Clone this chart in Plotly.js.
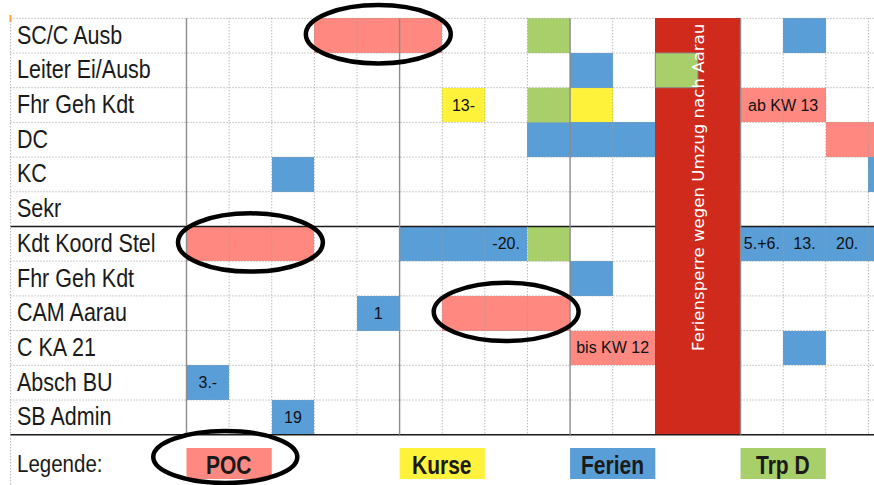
<!DOCTYPE html>
<html><head><meta charset="utf-8">
<script src="https://cdn.plot.ly/plotly-3.0.1.min.js"></script>
<style>html,body{margin:0;padding:0;background:#fff;}#chart{width:874px;height:485px;}</style>
</head><body><div id="chart"></div>
<script>
// ---------------- DATA ----------------
const rowLabels = ['SC/C Ausb','Leiter Ei/Ausb','Fhr Geh Kdt','DC','KC','Sekr',
  'Kdt Koord Stel','Fhr Geh Kdt','CAM Aarau','C KA 21','Absch BU','SB Admin'];

// POC (row index, start week column, number of columns, cell text)
const pocRows  = [0, 2, 3, 6, 8, 9];
const pocStart = [3, 13, 15, 0, 6, 9];
const pocSpan  = [3, 2, 2, 3, 3, 2];
const pocText  = ['', 'ab KW 13', '', '', '', 'bis KW 12'];
const pocCircled = [true, false, false, true, true, false];

// Kurse
const kurseRows  = [2, 2];
const kurseStart = [6, 9];
const kurseSpan  = [1, 1];
const kurseText  = ['13-', ''];

// Ferien
const ferienRows  = [0, 1, 3, 4, 4, 6, 6, 6, 6, 6, 6, 7, 8, 9, 10, 11];
const ferienStart = [14, 9, 8, 2, 16, 5, 7, 13, 14, 15, 16, 9, 4, 14, 0, 2];
const ferienSpan  = [1, 1, 3, 1, 1, 2, 1, 1, 1, 1, 1, 1, 1, 1, 1, 1];
const ferienText  = ['', '', '', '', '', '', '-20.', '5.+6.', '13.', '20.', '', '', '1', '', '3.-', '19'];

// Trp D
const trpRows  = [0, 1, 2, 6];
const trpStart = [8, 11, 8, 8];
const trpSpan  = [1, 1, 1, 1];
const trpText  = ['', '', '', ''];

// Feriensperre block
const sperreStart = 11;
const sperreSpan = 2;
const sperreText = 'Feriensperre wegen Umzug nach Aarau';

const legendTitle = 'Legende:';
const legendNames = ['POC', 'Kurse', 'Ferien', 'Trp D'];

// ---------------- LAYOUT GEOMETRY ----------------
const W = 874, H = 485;
const colX0 = 186.5, colW = 42.62, rowY0 = 18.3, rowH = 34.7;
const xr = [-colX0 / colW, (W - colX0) / colW];
const yTop = -rowY0 / rowH, yBot = (H - rowY0) / rowH;
const px2x = px => xr[0] + px / W * (xr[1] - xr[0]);
const py2y = py => yTop + py / H * (yBot - yTop);
const nRows = rowLabels.length;
const nCols = 17;
const monthCols = [0, 5, 9, 13];
const legendCols = [0, 5, 9, 13];

const COLORS = {POC: '#FF8880', Kurse: '#FFF23A', Ferien: '#5A9ED8', TrpD: '#A8CF6A', Sperre: '#CF2A1B'};
const SANS = '"Liberation Sans", Arial, sans-serif';

function barTrace(rows, start, span, text, color, lineW) {
  return {
    type: 'bar', orientation: 'h',
    y: rows.map(r => r + 0.5), x: span, base: start,
    width: rows.map(() => 1),
    text: text, textposition: 'inside', insidetextanchor: 'middle',
    textangle: 0, constraintext: 'none',
    textfont: {family: SANS, size: 16, color: '#111'},
    marker: {color: color, line: {width: lineW || 0, color: '#8a8a8a'}},
    hoverinfo: 'skip', showlegend: false
  };
}

const inSperre = s => s >= sperreStart && s < sperreStart + sperreSpan;

const traces = [
  barTrace([nRows / 2 - 0.5], [sperreStart], [sperreSpan], [''], COLORS.Sperre),
  barTrace(pocRows, pocStart, pocSpan, pocText, COLORS.POC),
  barTrace(kurseRows, kurseStart, kurseSpan, kurseText, COLORS.Kurse),
  barTrace(ferienRows, ferienStart, ferienSpan, ferienText, COLORS.Ferien),
  barTrace(trpRows, trpStart, trpSpan, trpText, COLORS.TrpD, trpStart.map(s => inSperre(s) ? 1 : 0))
];
traces[0].width = [nRows];

// ---------------- SHAPES ----------------
const shapes = [];
const DOT = {color: '#9c9c9c', width: 1, dash: '1px,2px'};
const leftX = px2x(10.5);
for (let r = 0; r <= nRows; r++) {
  const black = (r === 6 || r === nRows);
  const line = black ? {color: '#1a1a1a', width: 1.6} : DOT;
  const segs = (r === nRows) ? [[leftX, xr[1]]] : [[leftX, sperreStart], [sperreStart + sperreSpan, xr[1]]];
  segs.forEach(s => shapes.push({type: 'line', layer: 'above', xref: 'x', yref: 'y',
    x0: s[0], x1: s[1], y0: r, y1: r, line: line}));
}
for (let c = 0; c < nCols; c++) {
  if (c > sperreStart - 1 && c < sperreStart + sperreSpan) continue;
  const solid = monthCols.includes(c);
  shapes.push({type: 'line', layer: 'above', xref: 'x', yref: 'y', x0: c, x1: c, y0: 0, y1: nRows,
    line: solid ? {color: '#8c8c8c', width: 1.4} : DOT});
}
// left border
shapes.push({type: 'line', layer: 'above', xref: 'x', yref: 'y', x0: leftX, x1: leftX, y0: 0, y1: yBot, line: DOT});
// small orange mark top-left
shapes.push({type: 'line', layer: 'above', xref: 'x', yref: 'y', x0: leftX, x1: leftX, y0: py2y(15), y1: py2y(22),
  line: {color: '#F2A33A', width: 2}});

// legend boxes
const legColors = [COLORS.POC, COLORS.Kurse, COLORS.Ferien, COLORS.TrpD];
legendNames.forEach((n, i) => {
  shapes.push({type: 'rect', layer: 'above', xref: 'x', yref: 'y',
    x0: legendCols[i], x1: legendCols[i] + 2, y0: py2y(448), y1: py2y(479),
    fillcolor: legColors[i], line: {width: 0}});
});

// highlight ellipses around circled POC spans
const ELL = {color: '#000', width: 4.5};
pocRows.forEach((r, i) => {
  if (!pocCircled[i]) return;
  shapes.push({type: 'circle', layer: 'above', xref: 'x', yref: 'y',
    x0: pocStart[i] - 0.2, x1: pocStart[i] + pocSpan[i] + 0.2,
    y0: r - 0.38, y1: r + 1.3, line: ELL});
});
// ellipse around POC legend
shapes.push({type: 'circle', layer: 'above', xref: 'x', yref: 'y',
  x0: legendCols[0] - 0.78, x1: legendCols[0] + 2.6, y0: py2y(431), y1: py2y(483), line: ELL});

// ---------------- ANNOTATIONS ----------------
const annotations = [];
const tall = [];
rowLabels.forEach((lab, i) => {
  tall.push(annotations.length);
  annotations.push({text: lab, xref: 'paper', yref: 'y', x: 15 / W, y: i + 0.5, xanchor: 'left', yanchor: 'middle',
    yshift: 0, showarrow: false, font: {family: SANS, size: 21.5, color: '#1a1a1a'}});
});
annotations.push({text: sperreText, xref: 'x', yref: 'y', x: sperreStart + sperreSpan / 2, y: py2y(187),
  textangle: -90, showarrow: false, font: {family: 'DejaVu Sans', size: 16.6, color: '#ffffff'}});
tall.push(annotations.length);
annotations.push({text: legendTitle, xref: 'paper', yref: 'y', x: 15 / W, y: py2y(463), xanchor: 'left', yanchor: 'middle',
  showarrow: false, font: {family: SANS, size: 20.5, color: '#1a1a1a'}});
legendNames.forEach((n, i) => {
  tall.push(annotations.length);
  annotations.push({text: '<b>' + n + '</b>', xref: 'x', yref: 'y', x: legendCols[i] + 1, y: py2y(465),
    xanchor: 'center', yanchor: 'middle', showarrow: false, font: {family: SANS, size: 21, color: '#1a1a1a'}});
});

const layout = {
  width: W, height: H, margin: {l: 0, r: 0, t: 0, b: 0, pad: 0},
  paper_bgcolor: '#fff', plot_bgcolor: '#fff',
  barmode: 'overlay', bargap: 0,
  xaxis: {range: xr, visible: false, fixedrange: true, showgrid: false, zeroline: false},
  yaxis: {range: [yBot, yTop], visible: false, fixedrange: true, showgrid: false, zeroline: false},
  shapes: shapes, annotations: annotations, showlegend: false
};

Plotly.newPlot('chart', traces, layout, {displayModeBar: false, staticPlot: true}).then(gd => {
  // the original spreadsheet font is slightly taller than Arial: stretch the labels vertically
  gd.querySelectorAll('g.annotation').forEach(g => {
    const idx = +g.getAttribute('data-index');
    if (!tall.includes(idx)) return;
    const t = g.querySelector('text.annotation-text');
    if (!t) return;
    t.style.transformBox = 'fill-box';
    t.style.transformOrigin = 'center';
    t.style.transform = 'scaleY(1.2)';
  });
});
</script>
</body></html>
